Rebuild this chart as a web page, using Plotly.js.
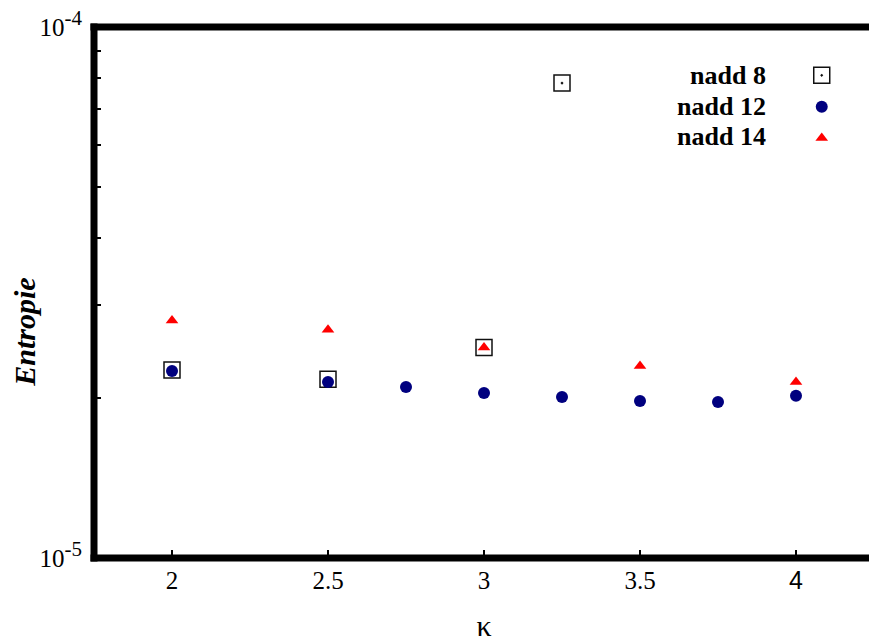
<!DOCTYPE html>
<html><head><meta charset="utf-8">
<script src="https://cdn.plot.ly/plotly-3.0.1.min.js"></script>
<style>html,body{margin:0;padding:0;overflow:hidden;background:#fff}#chart{width:878px;height:643px}</style>
</head><body><div id="chart"></div>
<script>
// ---- data ----
const kappa8 = [2, 2.5, 3, 3.25];
const entropy8 = [2.26e-5, 2.17e-5, 2.49e-5, 7.84e-5];
const kappa12 = [2, 2.5, 2.75, 3, 3.25, 3.5, 3.75, 4];
const entropy12 = [2.25e-5, 2.145e-5, 2.10e-5, 2.045e-5, 2.01e-5, 1.975e-5, 1.967e-5, 2.02e-5];
const kappa14 = [2, 2.5, 3, 3.5, 4];
const entropy14 = [2.80e-5, 2.69e-5, 2.49e-5, 2.30e-5, 2.145e-5];
const seriesNames = ['nadd 8', 'nadd 12', 'nadd 14'];
const xTickVals = [2, 2.5, 3, 3.5, 4];
const xTickText = ['2', '2.5', '3', '3.5', '<span style="font-family:Liberation Sans">4</span>'];
const yTickVals = [1e-5, 1e-4];
const yTickText = ['10<sup><span style="font-size:21px">-5</span></sup>', '10<sup><span style="font-size:21px">-4</span></sup>'];
const yMinorVals = [2e-5, 3e-5, 4e-5, 5e-5, 6e-5, 7e-5, 8e-5, 9e-5];

// ---- styles ----
const FONT = 'Liberation Serif, Times New Roman, serif';
const sqMarker = {symbol: 'square-open-dot', size: 16, color: '#111', line: {width: 1.5, color: '#111'}};
const ciMarker = {symbol: 'circle', size: 12, color: '#00007f'};
const trMarker = {symbol: 'triangle-up', size: 11, color: '#ff0000'};

const legendY = [0.909, 0.850, 0.794];
const legendKeyY = [0.909, 0.850, 0.791];
const legendKeyX = 0.933;
const legendTextX = 0.864;

const traces = [
  {x: kappa8, y: entropy8, name: seriesNames[0], mode: 'markers', type: 'scatter', marker: sqMarker, showlegend: false, cliponaxis: false},
  {x: kappa12, y: entropy12, name: seriesNames[1], mode: 'markers', type: 'scatter', marker: ciMarker, showlegend: false, cliponaxis: false},
  {x: kappa14, y: entropy14, name: seriesNames[2], mode: 'markers', type: 'scatter', marker: trMarker, showlegend: false, cliponaxis: false},
  // legend keys (overlay axes in [0,1] frame)
  {x: [legendKeyX], y: [legendKeyY[0]], xaxis: 'x2', yaxis: 'y2', mode: 'markers', type: 'scatter', marker: sqMarker, showlegend: false, hoverinfo: 'skip'},
  {x: [legendKeyX], y: [legendKeyY[1]], xaxis: 'x2', yaxis: 'y2', mode: 'markers', type: 'scatter', marker: ciMarker, showlegend: false, hoverinfo: 'skip'},
  {x: [legendKeyX], y: [legendKeyY[2]], xaxis: 'x2', yaxis: 'y2', mode: 'markers', type: 'scatter', marker: trMarker, showlegend: false, hoverinfo: 'skip'}
];

const annotations = seriesNames.map((n, i) => ({
  xref: 'paper', yref: 'paper', x: legendTextX, y: legendY[i], xanchor: 'right', yanchor: 'middle',
  text: '<b>' + n + '</b>', showarrow: false, font: {family: FONT, size: 26, color: '#000'}
}));
annotations.push({
  xref: 'paper', yref: 'paper', x: -0.09, y: 0.4256, xanchor: 'center', yanchor: 'middle',
  text: '<b><i>Entropie</i></b>', textangle: -90, showarrow: false, font: {family: FONT, size: 30, color: '#000'}
});

const frame = {type: 'line', xref: 'paper', yref: 'paper', layer: 'above', line: {color: '#000', width: 7}};
const shapes = [
  Object.assign({}, frame, {x0: 0, x1: 0, y0: -0.0066, y1: 1.0066}),
  Object.assign({}, frame, {x0: -0.0045, x1: 1.01, y0: 0, y1: 0}),
  Object.assign({}, frame, {x0: -0.0045, x1: 1.01, y0: 1, y1: 1})
];

const layout = {
  width: 878, height: 643,
  margin: {l: 94, r: 4, t: 27, b: 85},
  paper_bgcolor: '#fff', plot_bgcolor: '#fff',
  font: {family: FONT, color: '#000'},
  xaxis: {
    range: [1.75, 4.25], showgrid: false, zeroline: false, showline: false,
    tickvals: xTickVals, ticktext: xTickText, ticks: 'inside', ticklen: 8, tickwidth: 2, tickcolor: '#000',
    tickfont: {family: FONT, size: 25, color: '#000'}, ticklabelstandoff: 5,
    title: {text: 'κ', font: {family: FONT, size: 30, color: '#000'}, standoff: 21}
  },
  yaxis: {
    type: 'log', range: [-5, -4], showgrid: false, zeroline: false, showline: false,
    tickvals: yTickVals, ticktext: yTickText, ticks: '',
    tickfont: {family: FONT, size: 25, color: '#000'}, ticklabelstandoff: 11,
    minor: {tickvals: yMinorVals, ticks: 'inside', ticklen: 7, tickwidth: 2, tickcolor: '#000', showgrid: false}
  },
  xaxis2: {overlaying: 'x', range: [0, 1], visible: false, fixedrange: true},
  yaxis2: {overlaying: 'y', range: [0, 1], visible: false, fixedrange: true},
  annotations: annotations,
  shapes: shapes,
  showlegend: false
};

Plotly.newPlot('chart', traces, layout, {displayModeBar: false, staticPlot: true});
</script></body></html>
